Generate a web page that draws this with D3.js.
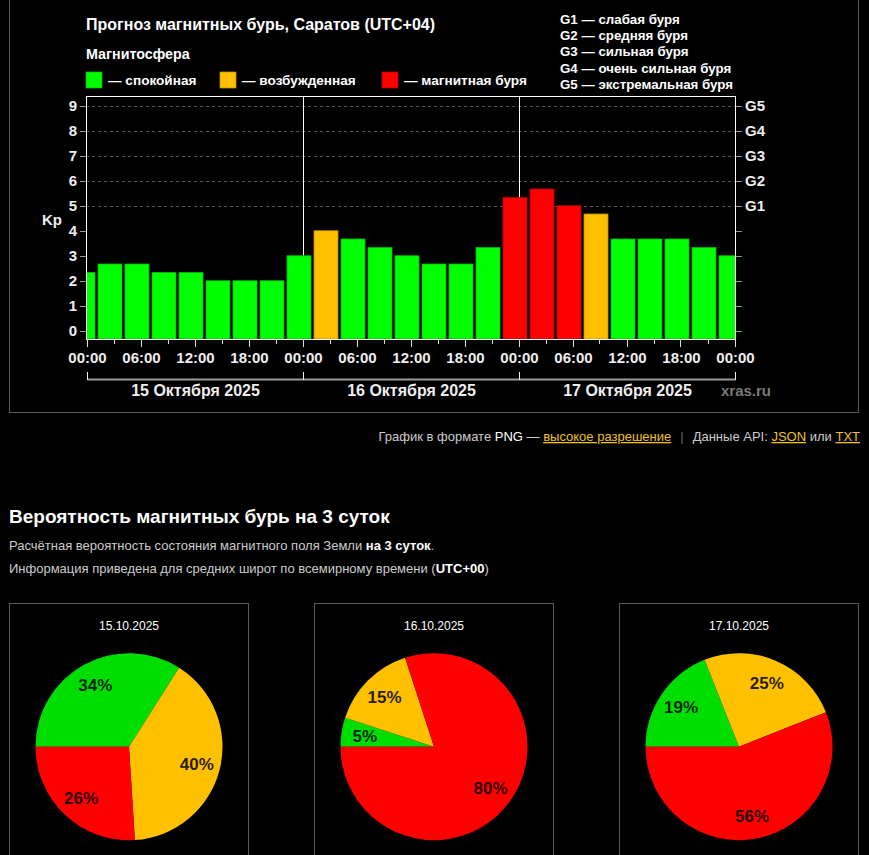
<!DOCTYPE html>
<html>
<head>
<meta charset="utf-8">
<script src="https://cdn.jsdelivr.net/npm/d3@7"></script>
<style>
  html, body { margin: 0; padding: 0; background: #000; overflow: hidden; }
  svg { display: block; font-family: "Liberation Sans", Arial, sans-serif; }
</style>
</head>
<body>
<script>
// Kp forecast, 3-hour bars (local time, UTC+04), hours from 15 Oct 00:00
const barStarts = [-2, 1, 4, 7, 10, 13, 16, 19, 22, 25, 28, 31, 34, 37, 40, 43, 46, 49, 52, 55, 58, 61, 64, 67, 70];
const kpValues  = [2.33, 2.67, 2.67, 2.33, 2.33, 2, 2, 2, 3, 4, 3.67, 3.33, 3, 2.67, 2.67, 3.33, 5.33, 5.67, 5, 4.67, 3.67, 3.67, 3.67, 3.33, 3];
const kpState   = ["q","q","q","q","q","q","q","q","q","a","q","q","q","q","q","q","s","s","s","a","q","q","q","q","q"];
const timeLabels = ["00:00", "06:00", "12:00", "18:00"];
const dayLabels = ["15 Октября 2025", "16 Октября 2025", "17 Октября 2025"];
const gLabels = ["G1", "G2", "G3", "G4", "G5"];
const gNames = ["слабая буря", "средняя буря", "сильная буря", "очень сильная буря", "экстремальная буря"];
const legendNames = ["— спокойная", "— возбужденная", "— магнитная буря"];

// probability pies
const pieDates = ["15.10.2025", "16.10.2025", "17.10.2025"];
const pieQuiet  = [34, 5, 19];
const pieActive = [40, 15, 25];
const pieStorm  = [26, 80, 56];

const barFill   = { q: "#00ff00", a: "#ffc000", s: "#ff0000" };
const barStroke = { q: "#00b800", a: "#c08c00", s: "#b80000" };
const pieFill = ["#00dd00", "#ffc000", "#ff0000"];

const W = 869, H = 855;
const svg = d3.select("body").append("svg")
  .attr("width", W).attr("height", H);

svg.append("rect").attr("width", W).attr("height", H).attr("fill", "#000");

// outer panel
svg.append("rect")
  .attr("x", 9.5).attr("y", -10).attr("width", 849).attr("height", 422.5)
  .attr("fill", "none").attr("stroke", "#5a5a5a");

const plot = { left: 86, right: 736, top: 96, bottom: 339 };

const x = d3.scaleLinear().domain([0, 72]).range([87.5, 735.5]);
const y = d3.scaleLinear().domain([-0.33, 9.39]).range([plot.bottom, plot.top]);

// title and legends
svg.append("text").attr("x", 86).attr("y", 29.5)
  .attr("fill", "#fff").attr("font-size", 16).attr("font-weight", "bold")
  .text("Прогноз магнитных бурь, Саратов (UTC+04)");

svg.append("text").attr("x", 86).attr("y", 59)
  .attr("fill", "#fff").attr("font-size", 14.3).attr("font-weight", "bold")
  .text("Магнитосфера");

const legX = [86, 220, 382];
const legCol = ["q", "a", "s"];
legX.forEach((lx, i) => {
  svg.append("rect").attr("x", lx).attr("y", 72).attr("width", 16).attr("height", 16)
    .attr("fill", barFill[legCol[i]]).attr("stroke", barStroke[legCol[i]]).attr("stroke-width", 0.8);
  svg.append("text").attr("x", lx + 22).attr("y", 84.5)
    .attr("fill", "#fff").attr("font-size", 13.6).attr("font-weight", "bold")
    .text(legendNames[i]);
});

svg.append("g").selectAll("text")
  .data(gLabels)
  .enter().append("text")
  .attr("x", 560)
  .attr("y", (d, i) => 24 + i * 16.2)
  .attr("fill", "#fff").attr("font-size", 13.3).attr("font-weight", "bold")
  .text((d, i) => `${d} — ${gNames[i]}`);

// clip for bars
svg.append("clipPath").attr("id", "plotclip")
  .append("rect")
  .attr("x", plot.left + 1).attr("y", plot.top)
  .attr("width", plot.right - plot.left - 1).attr("height", plot.bottom - plot.top);

// G-level grid lines
svg.append("g").selectAll("line")
  .data([5, 6, 7, 8, 9])
  .enter().append("line")
  .attr("x1", plot.left).attr("x2", plot.right)
  .attr("y1", d => Math.round(y(d)) + 0.5).attr("y2", d => Math.round(y(d)) + 0.5)
  .attr("stroke", "#555").attr("stroke-dasharray", "3,3");

// day separators
svg.append("g").selectAll("line")
  .data([24, 48])
  .enter().append("line")
  .attr("x1", d => Math.round(x(d)) - 0.5).attr("x2", d => Math.round(x(d)) - 0.5)
  .attr("y1", plot.top).attr("y2", plot.bottom)
  .attr("stroke", "#fff");

// bars
const bars = barStarts.map((t, i) => ({ t, v: kpValues[i], s: kpState[i] }));
svg.append("g").attr("clip-path", "url(#plotclip)")
  .selectAll("rect")
  .data(bars)
  .enter().append("rect")
  .attr("x", d => x(d.t) + 1.5)
  .attr("y", d => y(d.v))
  .attr("width", d => x(d.t + 3) - x(d.t) - 3)
  .attr("height", d => plot.bottom - y(d.v))
  .attr("fill", d => barFill[d.s])
  .attr("stroke", d => barStroke[d.s])
  .attr("stroke-width", 0.8);

// plot frame
svg.append("rect")
  .attr("x", plot.left + 0.5).attr("y", plot.top + 0.5)
  .attr("width", plot.right - plot.left - 1).attr("height", plot.bottom - plot.top)
  .attr("fill", "none").attr("stroke", "#fff");

// left Kp axis
const kpTicks = d3.range(0, 10);
const yl = svg.append("g");
yl.selectAll("line").data(kpTicks).enter().append("line")
  .attr("x1", 80).attr("x2", 86)
  .attr("y1", d => Math.round(y(d)) + 0.5).attr("y2", d => Math.round(y(d)) + 0.5)
  .attr("stroke", "#999");
yl.selectAll("text").data(kpTicks).enter().append("text")
  .attr("x", 77).attr("y", d => y(d) + 5.5)
  .attr("text-anchor", "end")
  .attr("fill", "#eee").attr("font-size", 15).attr("font-weight", "bold")
  .text(d => d);

svg.append("text").attr("x", 52).attr("y", 225)
  .attr("text-anchor", "middle")
  .attr("fill", "#eee").attr("font-size", 15).attr("font-weight", "bold")
  .text("Kp");

// right G axis
const yr = svg.append("g");
yr.selectAll("line").data(kpTicks).enter().append("line")
  .attr("x1", 736).attr("x2", 742)
  .attr("y1", d => Math.round(y(d)) + 0.5).attr("y2", d => Math.round(y(d)) + 0.5)
  .attr("stroke", "#999");
yr.selectAll("text").data(gLabels).enter().append("text")
  .attr("x", 745).attr("y", (d, i) => y(i + 5) + 5.5)
  .attr("fill", "#eee").attr("font-size", 15).attr("font-weight", "bold")
  .text(d => d);

// time axis
const hourTicks = d3.range(0, 73, 3);
svg.append("g").selectAll("line").data(hourTicks).enter().append("line")
  .attr("x1", d => Math.round(x(d)) - 0.5).attr("x2", d => Math.round(x(d)) - 0.5)
  .attr("y1", plot.bottom).attr("y2", d => d % 6 === 0 ? plot.bottom + 8 : plot.bottom + 5)
  .attr("stroke", "#ddd");
svg.append("g").selectAll("text").data(d3.range(0, 73, 6)).enter().append("text")
  .attr("x", d => x(d)).attr("y", 363)
  .attr("text-anchor", "middle")
  .attr("fill", "#eee").attr("font-size", 15).attr("font-weight", "bold")
  .text(d => timeLabels[(d / 6) % 4]);

// day bracket
svg.append("line")
  .attr("x1", x(0)).attr("x2", x(72)).attr("y1", 379.5).attr("y2", 379.5)
  .attr("stroke", "#9a9a9a").attr("stroke-width", 2);
svg.append("g").selectAll("line").data([0, 24, 48, 72]).enter().append("line")
  .attr("x1", d => Math.round(x(d)) - 0.5).attr("x2", d => Math.round(x(d)) - 0.5)
  .attr("y1", 372).attr("y2", 380)
  .attr("stroke", "#eee");
svg.append("g").selectAll("text").data(dayLabels).enter().append("text")
  .attr("x", (d, i) => x(12 + i * 24)).attr("y", 395.5)
  .attr("text-anchor", "middle")
  .attr("fill", "#eee").attr("font-size", 16).attr("font-weight", "bold")
  .text(d => d);

svg.append("text").attr("x", 721).attr("y", 395.5)
  .attr("fill", "#7a7a7a").attr("font-size", 15).attr("font-weight", "bold")
  .text("xras.ru");

// links line
const links = svg.append("text").attr("x", 860).attr("y", 441)
  .attr("text-anchor", "end").attr("font-size", 13).attr("fill", "#ccc");
links.append("tspan").text("График в формате ");
links.append("tspan").attr("fill", "#fff").text("PNG");
links.append("tspan").text(" — ");
links.append("tspan").attr("fill", "#f0c020").attr("text-decoration", "underline").text("высокое разрешение");
links.append("tspan").attr("fill", "#666").attr("dx", 9).text("|");
links.append("tspan").attr("dx", 9).text("Данные API: ");
links.append("tspan").attr("fill", "#f0c020").attr("text-decoration", "underline").text("JSON");
links.append("tspan").text(" или ");
links.append("tspan").attr("fill", "#f0c020").attr("text-decoration", "underline").text("TXT");

// probability section
svg.append("text").attr("x", 9).attr("y", 523)
  .attr("fill", "#fff").attr("font-size", 19).attr("font-weight", "bold")
  .text("Вероятность магнитных бурь на 3 суток");

const p1 = svg.append("text").attr("x", 9).attr("y", 550).attr("font-size", 13).attr("fill", "#ccc");
p1.append("tspan").text("Расчётная вероятность состояния магнитного поля Земли ");
p1.append("tspan").attr("fill", "#fff").attr("font-weight", "bold").text("на 3 суток");
p1.append("tspan").text(".");

const p2 = svg.append("text").attr("x", 9).attr("y", 573).attr("font-size", 13).attr("fill", "#ccc");
p2.append("tspan").text("Информация приведена для средних широт по всемирному времени (");
p2.append("tspan").attr("fill", "#fff").attr("font-weight", "bold").text("UTC+00");
p2.append("tspan").text(")");

const boxX = [9.5, 314.5, 619.5];
const boxW = 239;
const r = 93.5;
const pie = d3.pie().sort(null).startAngle(-Math.PI / 2).endAngle(1.5 * Math.PI);
const arc = d3.arc().innerRadius(0).outerRadius(r);
const labelArc = d3.arc().innerRadius(70).outerRadius(70);

pieDates.forEach((date, i) => {
  const g = svg.append("g");
  g.append("rect").attr("x", boxX[i]).attr("y", 603.5).attr("width", boxW).attr("height", 300)
    .attr("fill", "none").attr("stroke", "#5a5a5a");
  const cx = boxX[i] + boxW / 2;
  g.append("text").attr("x", cx).attr("y", 630)
    .attr("text-anchor", "middle").attr("fill", "#fff").attr("font-size", 12)
    .text(date);
  const vals = [pieQuiet[i], pieActive[i], pieStorm[i]];
  const arcs = pie(vals);
  const pg = g.append("g").attr("transform", `translate(${cx},746.7)`);
  pg.selectAll("path").data(arcs).enter().append("path")
    .attr("d", arc)
    .attr("fill", (d, j) => pieFill[j]);
  pg.selectAll("text").data(arcs).enter().append("text")
    .attr("transform", d => `translate(${labelArc.centroid(d)})`)
    .attr("dy", "0.36em")
    .attr("text-anchor", "middle")
    .attr("fill", "rgba(0,0,0,0.85)").attr("font-size", 17).attr("font-weight", "bold")
    .text(d => `${d.data}%`);
});
</script>
</body>
</html>
